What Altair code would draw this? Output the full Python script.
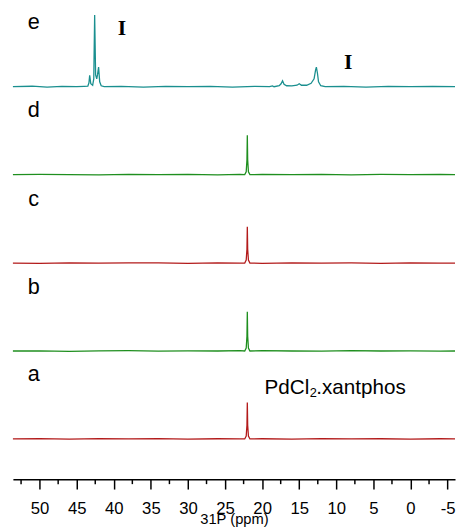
import altair as alt
import pandas as pd

# ---- data (ppm, intensity in plot units) ----
series_names = ["a", "b", "c", "d", "e"]
series_colors = ["#b31b1b", "#1f8f1f", "#b31b1b", "#1f8f1f", "#1a8f8f"]
series_offsets = [41, 130.5, 220, 310, 399.5]

ppm_a = [53.6, 50, 46, 42, 38, 34, 30, 26, 23, 22.35, 22.15, 22.05, 22.0, 21.95, 21.85, 21.65, 20, 16, 12, 8, 4, 0, -4, -6.0]
int_a = [0, 0.3, -0.2, 0.3, 0, 0.3, -0.2, 0.2, 0, 0, 3, 14, 37, 14, 3, 0, 0.2, -0.2, 0.3, 0, 0.2, -0.2, 0.2, 0]

ppm_b = [53.6, 50, 46, 42, 38, 34, 30, 26, 23, 22.35, 22.15, 22.05, 22.0, 21.95, 21.85, 21.65, 20, 16, 12, 8, 4, 0, -4, -6.0]
int_b = [0, 0.2, -0.3, 0.2, 0.3, -0.2, 0.2, 0, 0.3, 0, 3, 15, 40, 15, 3, 0, 0.3, 0, -0.2, 0.3, 0, 0.2, -0.2, 0]

ppm_c = [53.6, 50, 46, 42, 38, 34, 30, 26, 23, 22.35, 22.15, 22.05, 22.0, 21.95, 21.85, 21.65, 20, 16, 12, 8, 4, 0, -4, -6.0]
int_c = [0, -0.2, 0.3, 0, 0.2, 0.3, -0.2, 0.3, 0, 0, 3, 14, 37, 14, 3, 0, -0.2, 0.3, 0, 0.2, -0.2, 0.3, 0, 0]

ppm_d = [53.6, 50, 46, 42, 38, 34, 30, 26, 23, 22.35, 22.15, 22.05, 22.0, 21.95, 21.85, 21.65, 20, 16, 12, 8, 4, 0, -4, -6.0]
int_d = [0, 0.3, 0, -0.2, 0.3, 0, 0.2, -0.3, 0.2, 0, 3, 15, 40, 15, 3, 0, 0.2, 0, 0.3, -0.2, 0.2, 0, 0.3, 0]

ppm_e = [53.6, 51, 49, 47, 45, 44, 43.5, 43.35, 43.25, 43.1, 42.85, 42.7, 42.58, 42.45, 42.3,
         42.2, 42.05, 41.9, 41.7, 41.3, 39, 36, 33, 30, 27, 24, 21, 19, 18.6, 18.4, 17.7,
         17.45, 17.25, 17.05, 16.7, 16, 15.3, 15.0, 14.7, 14.0, 13.4, 13.0, 12.8, 12.69,
         12.55, 12.4, 12.1, 11.5, 9, 6, 3, 0, -3, -6.0]
int_e = [0, 0.5, -0.3, 0.4, 0, 0.3, 0.5, 4, 11.5, 3, 1.5, 8, 73, 12, 8,
         12, 20, 5, 1, 0, 0.3, -0.3, 0.4, 0, 0.4, -0.3, 0.3, 0, 0.8, 0, 1,
         3, 6, 2.5, 1, 0.8, 1.5, 3, 1.5, 1.5, 3.5, 8, 17, 20,
         14, 5, 1, 0, 0.3, -0.3, 0.3, 0, 0.3, 0]

spectra_ppm = [ppm_a, ppm_b, ppm_c, ppm_d, ppm_e]
spectra_int = [int_a, int_b, int_c, int_d, int_e]

major_ticks = [50, 45, 40, 35, 30, 25, 20, 15, 10, 5, 0, -5]
minor_ticks = [52.5, 47.5, 42.5, 37.5, 32.5, 27.5, 22.5, 17.5, 12.5, 7.5, 2.5, -2.5]

letter_ppm = 50.8
letter_rise = 58.5

roman_labels = ["I", "I"]
roman_ppm = [38.9, 8.4]
roman_v = [452, 418]

# ---- build tables ----
rows = []
for name, off, xs, ys in zip(series_names, series_offsets, spectra_ppm, spectra_int):
    for i, (x, y) in enumerate(zip(xs, ys)):
        rows.append({"series": name, "ppm": x, "v": off + y, "idx": i})
spec = pd.DataFrame(rows)

letters = pd.DataFrame({
    "label": series_names,
    "ppm": [letter_ppm] * 5,
    "v": [o + letter_rise for o in series_offsets],
})
romans = pd.DataFrame({"label": roman_labels, "ppm": roman_ppm, "v": roman_v})
pd_main = pd.DataFrame({"label": ["PdCl", ".xantphos"], "ppm": [19.67, 12.7], "v": [87, 87]})
pd_sub = pd.DataFrame({"label": ["2"], "ppm": [13.6], "v": [83.5]})
minor_df = pd.DataFrame({"ppm": minor_ticks})

FONT = "Liberation Sans"
xdom = [53.6, -6.0]
xscale = alt.Scale(domain=xdom, nice=False, zero=False)
yscale = alt.Scale(domain=[0, 475], nice=False, zero=False)

axis = alt.Axis(
    values=major_ticks,
    labelExpr="'' + datum.value",
    labelOverlap=False,
    labelFont=FONT,
    labelFontSize=17,
    labelColor="black",
    labelPadding=12,
    tickColor="black",
    tickWidth=1.5,
    tickSize=10,
    domainColor="black",
    domainWidth=1.5,
    grid=False,
    title="31P (ppm)",
    titleFont=FONT,
    titleFontSize=15,
    titleFontWeight="normal",
    titleColor="black",
    titlePadding=-5,
)

lines = alt.Chart(spec).mark_line(strokeWidth=1.3).encode(
    x=alt.X("ppm:Q", scale=xscale, axis=axis),
    y=alt.Y("v:Q", scale=yscale, axis=None),
    color=alt.Color("series:N", scale=alt.Scale(domain=series_names, range=series_colors), legend=None),
    detail="series:N",
    order="idx:Q",
)

minor = alt.Chart(minor_df).mark_rule(color="black", strokeWidth=1.5).encode(
    x=alt.X("ppm:Q", scale=xscale),
    y=alt.value(475),
    y2=alt.value(480),
)

letter_text = alt.Chart(letters).mark_text(
    font=FONT, fontSize=22, align="center", baseline="alphabetic", color="black"
).encode(x=alt.X("ppm:Q", scale=xscale), y=alt.Y("v:Q", scale=yscale), text="label:N")

roman_text = alt.Chart(romans).mark_text(
    font="Liberation Serif", fontSize=22, fontWeight="bold", align="center",
    baseline="alphabetic", color="black"
).encode(x=alt.X("ppm:Q", scale=xscale), y=alt.Y("v:Q", scale=yscale), text="label:N")

pd_text = alt.Chart(pd_main).mark_text(
    font=FONT, fontSize=21, align="left", baseline="alphabetic", color="black"
).encode(x=alt.X("ppm:Q", scale=xscale), y=alt.Y("v:Q", scale=yscale), text="label:N")

pd_sub_text = alt.Chart(pd_sub).mark_text(
    font=FONT, fontSize=13, align="left", baseline="alphabetic", color="black"
).encode(x=alt.X("ppm:Q", scale=xscale), y=alt.Y("v:Q", scale=yscale), text="label:N")

chart = alt.layer(lines, minor, letter_text, roman_text, pd_text, pd_sub_text).properties(
    width=450,
    height=475,
    autosize=alt.AutoSizeParams(type="none"),
    padding={"left": 5, "top": 0, "right": 1, "bottom": 44},
).configure_view(stroke=None)

chart.save("out.html", embed_options={"renderer": "svg", "actions": False})
